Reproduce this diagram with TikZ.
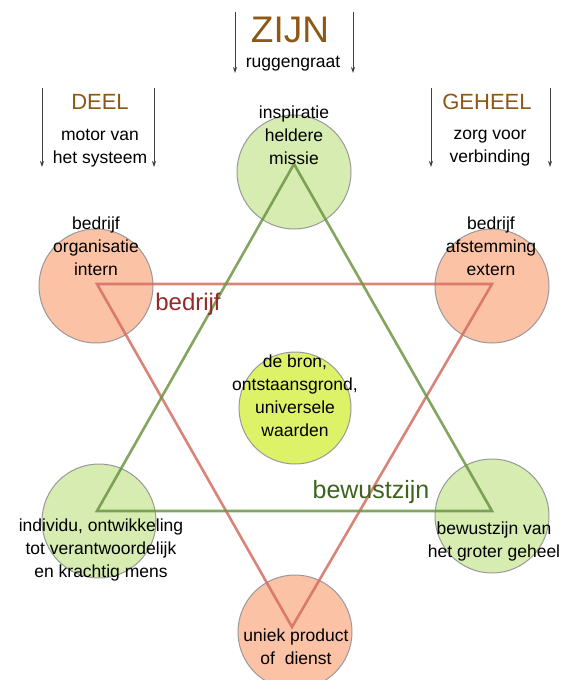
\documentclass[tikz,border=0pt]{standalone}
\usepackage{fontspec}
\setmainfont{Liberation Sans}
\usetikzlibrary{arrows.meta}
\definecolor{gfill}{RGB}{214,236,176}
\definecolor{rfill}{RGB}{251,194,166}
\definecolor{yfill}{RGB}{222,242,104}
\definecolor{gline}{RGB}{108,150,68}
\definecolor{rline}{RGB}{212,110,98}
\definecolor{brown}{RGB}{140,88,20}
\definecolor{dred}{RGB}{150,40,40}
\definecolor{dgreen}{RGB}{60,100,30}
\tikzset{
  circ/.style={circle, draw=black!40, line width=1pt, minimum size=114pt, inner sep=0pt},
  gcirc/.style={circ, fill=gfill},
  rcirc/.style={circ, fill=rfill},
  ycirc/.style={circ, fill=yfill, minimum size=112pt},
  txt/.style={align=center, inner sep=0pt, font=\fontsize{17.5}{23}\selectfont, text=black},
  head/.style={inner sep=0pt, text=brown},
  sub/.style={align=center, inner sep=0pt, font=\fontsize{17.5}{23}\selectfont},
  garr/.style={draw=black!75, line width=0.8pt, -{Stealth[length=6pt,width=4pt]}},
  gtri/.style={draw=gline, line width=2.6pt, opacity=0.85, line join=miter},
  rtri/.style={draw=rline, line width=2.6pt, opacity=0.85, line join=miter},
}
\begin{document}
\begin{tikzpicture}[x=1pt,y=-1pt]
\useasboundingbox (0,0) rectangle (568,680);
% circles
\node[gcirc] (ctop) at (294,172) {};
\node[rcirc] (ctl) at (96,286) {};
\node[rcirc] (ctr) at (492,286) {};
\node[gcirc] (cbl) at (99,521) {};
\node[gcirc] (cbr) at (492,516) {};
\node[rcirc] (cbot) at (295,632) {};
\node[ycirc] (cmid) at (295,408) {};
% triangle vertices
\coordinate (g1) at (294,164);
\coordinate (g2) at (97,511);
\coordinate (g3) at (492,511);
\coordinate (r1) at (97,284);
\coordinate (r2) at (492,284);
\coordinate (r3) at (292,627);
\draw[rtri] (r1) -- (r2) -- (r3) -- cycle;
\draw[gtri] (g1) -- (g2) -- (g3) -- cycle;
% labels on triangles
\node[text=dred, font=\fontsize{24}{26}\selectfont] (lbed) at (188,304) {bedrijf};
\node[text=dgreen, font=\fontsize{25}{27}\selectfont] (lbew) at (371,492) {bewustzijn};
% circle texts
\node[txt] (ttop) at (294,135) {inspiratie\\heldere\\missie};
\node[txt] (ttl) at (96,246) {bedrijf\\organisatie\\intern};
\node[txt] (ttr) at (491,246) {bedrijf\\afstemming\\extern};
\node[txt] (tbl) at (101,550) {individu, ontwikkeling\\tot verantwoordelijk\\en krachtig mens};
\node[txt] (tbr) at (494,541) {bewustzijn van\\het groter geheel};
\node[txt] (tbot) at (296,647) {uniek product\\of~~dienst};
\node[txt] (tmid) at (295,396) {de bron,\\ontstaansgrond,\\universele\\waarden};
% headers
\node[head, font=\fontsize{37}{40}\selectfont] (zijn) at (290,30) {ZIJN};
\node[sub] (rugg) at (293,64) {ruggengraat};
\coordinate (za1) at (235,12); \coordinate (za2) at (235,73);
\coordinate (zb1) at (353,12); \coordinate (zb2) at (353,73);
\draw[garr] (za1) -- (za2);
\draw[garr] (zb1) -- (zb2);
\node[head, font=\fontsize{22}{24}\selectfont] (deel) at (100,102) {DEEL};
\node[sub] (motor) at (100,148) {motor van\\het systeem};
\coordinate (da1) at (42,88); \coordinate (da2) at (42,167);
\coordinate (db1) at (154,88); \coordinate (db2) at (154,167);
\draw[garr] (da1) -- (da2);
\draw[garr] (db1) -- (db2);
\node[head, font=\fontsize{22}{24}\selectfont] (geheel) at (487,102) {GEHEEL};
\node[sub] (zorg) at (490,148) {zorg voor\\verbinding};
\coordinate (ga1) at (431,88); \coordinate (ga2) at (431,167);
\coordinate (gb1) at (550,88); \coordinate (gb2) at (550,167);
\draw[garr] (ga1) -- (ga2);
\draw[garr] (gb1) -- (gb2);
\end{tikzpicture}
\end{document}
